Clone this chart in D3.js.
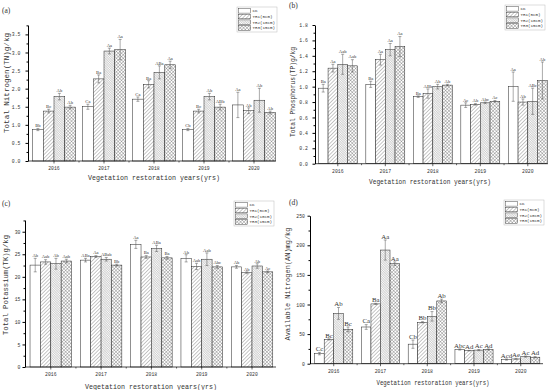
<!DOCTYPE html>
<html lang="en">
<head>
<meta charset="UTF-8">
<title>Soil nutrients by restoration year</title>
<script src="https://cdn.jsdelivr.net/npm/d3@7"></script>
<style>
  body { margin: 0; background: #fff; }
  text { font-family: "Liberation Mono", monospace; fill: #333; }
</style>
</head>
<body>
<svg id="chart" width="550" height="390"></svg>
<script>
// categories
var years = ["2016", "2017", "2018", "2019", "2020"];
var treatments = ["CK", "TR1(5cm)", "TR2(10cm)", "TR3(15cm)"];

// (a) total nitrogen, one row per year: CK, TR1, TR2, TR3
var tnMean = [[0.87, 1.38, 1.78, 1.49], [1.50, 2.27, 3.04, 3.08], [1.71, 2.12, 2.45, 2.66], [0.87, 1.38, 1.78, 1.49], [1.55, 1.39, 1.68, 1.34]];
var tnErr  = [[0.03, 0.05, 0.09, 0.05], [0.07, 0.11, 0.08, 0.28], [0.06, 0.10, 0.18, 0.10], [0.03, 0.05, 0.09, 0.08], [0.35, 0.08, 0.33, 0.04]];
var tnLab  = [["Bb", "Bc", "Ab", "Ab"], ["Ca", "Ba", "Aa", "Aa"], ["Ca", "Ba", "ABa", "Aa"], ["Cb", "Bc", "Ab", "ABb"], ["Aa", "Ab", "Ab", "Ab"]];

// (b) total phosphorus
var tpMean = [[0.98, 1.24, 1.29, 1.27], [1.03, 1.35, 1.48, 1.52], [0.87, 0.91, 1.00, 1.02], [0.76, 0.77, 0.79, 0.81], [1.00, 0.80, 0.81, 1.08]];
var tpErr  = [[0.05, 0.05, 0.13, 0.08], [0.04, 0.07, 0.08, 0.13], [0.01, 0.06, 0.03, 0.01], [0.03, 0.01, 0.01, 0.01], [0.19, 0.04, 0.17, 0.24]];
var tpLab  = [["Ba", "Aa", "Aab", "Aab"], ["Ba", "Aa", "Aa", "Aa"], ["Ba", "ABb", "Ab", "Ab"], ["Ac", "Ab", "Abc", "Ac"], ["Aa", "Ab", "ABc", "Ab"]];

// (c) total potassium
var tkMean = [[22.6, 23.3, 22.9, 23.5], [23.7, 24.5, 23.9, 22.6], [27.2, 24.4, 26.3, 24.2], [24.1, 22.3, 23.9, 22.2], [22.2, 20.9, 22.4, 21.1]];
var tkErr  = [[1.5, 0.5, 1.2, 0.4], [0.4, 0.2, 0.4, 0.2], [0.9, 0.3, 0.7, 0.3], [0.8, 0.7, 1.4, 0.3], [0.3, 0.2, 0.5, 0.2]];
var tkLab  = [["Ab", "Aab", "Ab", "Aab"], ["ABa", "Aa", "ABab", "Bb"], ["Aa", "Ba", "ABa", "Ba"], ["Ab", "Aab", "Aab", "Abc"], ["Ab", "Ab", "Ab", "Ac"]];

// (d) available nitrogen
var anMean = [[17, 41, 85, 58], [62, 101, 192, 169], [33, 70, 80, 106], [24, 22, 23, 24], [7, 8, 12, 11]];
var anErr  = [[2, 1, 10, 4], [4, 1, 17, 3], [7, 1, 8, 3], [1, 0.5, 1, 1], [1, 1, 1, 1]];
var anLab  = [["Cc", "Bc", "Ab", "Bc"], ["Ca", "Ba", "Aa", "Aa"], ["Cb", "Bb", "Bb", "Ab"], ["Abc", "Ad", "Ac", "Ad"], ["Acd", "Ae", "Ac", "Ad"]];

var svg = d3.select("#chart");

// fill patterns for the four treatments
var defs = svg.append("defs");
function hatch(id, size, angle, stroke, sw, cross) {
  var p = defs.append("pattern").attr("id", id)
    .attr("patternUnits", "userSpaceOnUse")
    .attr("width", size).attr("height", size)
    .attr("patternTransform", "rotate(" + angle + ")");
  p.append("rect").attr("width", size).attr("height", size).attr("fill", "#fff");
  p.append("line").attr("x1", 0).attr("y1", 0).attr("x2", 0).attr("y2", size)
    .attr("stroke", stroke).attr("stroke-width", sw);
  if (cross) {
    p.append("line").attr("x1", 0).attr("y1", 0).attr("x2", size).attr("y2", 0)
      .attr("stroke", cross).attr("stroke-width", sw);
  }
}
hatch("pat1", 2.6, 45, "#333", 0.55, null);
hatch("pat2", 1.7, -45, "#666", 0.45, "#aaa");
hatch("pat3", 2.4, 45, "#333", 0.5, "#333");
var fills = ["#fff", "url(#pat1)", "url(#pat2)", "url(#pat3)"];

var panels = [
  { tag: "(a)", tx: 2, ty: 13, mean: tnMean, err: tnErr, lab: tnLab,
    yMax: 3.76, bottom: 161, top: 25, ticks: d3.range(0, 3.51, 0.5), minor: d3.range(0.25, 3.76, 0.5), fmt: d3.format(".1f"),
    xRange: [28, 280], pi: 0.14, po: 0.09, axisEnd: 276, tickPad: 5,
    ylab: "Total Nitrogen(TN)g/kg", ylx: 9, yly: 83, yll: 100,
    xlab: "Vegetation restoration years(yrs)", xlx: 154, xly: 180, xll: 132,
    legX: 237, legY: 7, labSize: 4.6 },
  { tag: "(b)", tx: 289, ty: 8, mean: tpMean, err: tpErr, lab: tpLab,
    yMax: 1.8, bottom: 163.7, top: 25, ticks: d3.range(0, 1.81, 0.2), minor: d3.range(0.1, 1.8, 0.2), fmt: d3.format(".1f"),
    xRange: [315, 550.6], pi: 0.18, po: 0.07, axisEnd: 548, tickPad: 4.5,
    ylab: "Total Phosphorus(TP)g/kg", ylx: 295, yly: 92, yll: 90,
    xlab: "Vegetation restoration years(yrs)", xlx: 430, xly: 184, xll: 122,
    legX: 505, legY: 5, labSize: 4.6 },
  { tag: "(c)", tx: 2, ty: 206, mean: tkMean, err: tkErr, lab: tkLab,
    yMax: 32.6, bottom: 367, top: 220, ticks: d3.range(0, 31, 5), minor: d3.range(2.5, 32.6, 5), fmt: d3.format("d"),
    xRange: [25, 277.8], pi: 0.175, po: 0.1, axisEnd: 276, tickPad: 2,
    ylab: "Total Potassium(TK)g/kg", ylx: 8, yly: 285, yll: 100,
    xlab: "Vegetation restoration years(yrs)", xlx: 151, xly: 389, xll: 132,
    legX: 234, legY: 201, labSize: 4.6 },
  { tag: "(d)", tx: 289, ty: 205, mean: anMean, err: anErr, lab: anLab,
    yMax: 250, bottom: 363.7, top: 215.7, ticks: d3.range(0, 251, 50), minor: d3.range(25, 250, 50), fmt: d3.format("d"),
    xRange: [310, 544.5], pi: 0.185, po: 0.1, axisEnd: 543, tickPad: 2.5,
    ylab: "Available Nitrogen(AN)mg/kg", ylx: 290, yly: 284, yll: 113,
    xlab: "Vegetation restoration years(yrs)", xlx: 433, xly: 385, xll: 113,
    legX: 504, legY: 200, labSize: 6.8 }
];

panels.forEach(drawPanel);

function drawPanel(cfg) {
  var g = svg.append("g");
  var y = d3.scaleLinear().domain([0, cfg.yMax]).range([cfg.bottom, cfg.top]);
  var x0 = d3.scaleBand().domain(years).range(cfg.xRange).paddingInner(cfg.pi).paddingOuter(cfg.po);
  var x1 = d3.scaleBand().domain(treatments).range([0, x0.bandwidth()]);

  // bars
  var groups = g.selectAll("g.year").data(years).enter().append("g")
    .attr("transform", function(d) { return "translate(" + x0(d) + ",0)"; });
  var cells = groups.selectAll("g.bar")
    .data(function(d, i) {
      return treatments.map(function(t, j) {
        return { t: t, j: j, v: cfg.mean[i][j], e: cfg.err[i][j], lab: cfg.lab[i][j] };
      });
    })
    .enter().append("g");

  cells.append("rect")
    .attr("x", function(d) { return x1(d.t); })
    .attr("width", x1.bandwidth())
    .attr("y", function(d) { return y(d.v); })
    .attr("height", function(d) { return cfg.bottom - y(d.v); })
    .attr("fill", function(d) { return fills[d.j]; })
    .attr("stroke", "#222").attr("stroke-width", 0.5);

  // error bars
  var cx = function(d) { return x1(d.t) + x1.bandwidth() / 2; };
  cells.append("line")
    .attr("x1", cx).attr("x2", cx)
    .attr("y1", function(d) { return y(d.v - d.e); })
    .attr("y2", function(d) { return y(d.v + d.e); })
    .attr("stroke", "#555").attr("stroke-width", 0.5);
  [1, -1].forEach(function(s) {
    cells.append("line")
      .attr("x1", function(d) { return cx(d) - 1.5; })
      .attr("x2", function(d) { return cx(d) + 1.5; })
      .attr("y1", function(d) { return y(d.v + s * d.e); })
      .attr("y2", function(d) { return y(d.v + s * d.e); })
      .attr("stroke", "#555").attr("stroke-width", 0.5);
  });

  // significance letters
  cells.append("text")
    .attr("x", cx)
    .attr("y", function(d) { return y(d.v + d.e) - 1.2; })
    .attr("text-anchor", "middle")
    .style("font-family", "'Liberation Serif', serif")
    .style("font-size", cfg.labSize + "px")
    .style("fill", "#333")
    .text(function(d) { return d.lab; });

  // y axis
  var yAxis = g.append("g").attr("transform", "translate(" + cfg.xRange[0] + ",0)")
    .call(d3.axisLeft(y).tickValues(cfg.ticks).tickFormat(cfg.fmt).tickSize(2.5).tickSizeOuter(0).tickPadding(cfg.tickPad));
  g.append("g").attr("transform", "translate(" + cfg.xRange[0] + ",0)")
    .call(d3.axisLeft(y).tickValues(cfg.minor).tickFormat("").tickSize(1.5).tickSizeOuter(0))
    .select(".domain").remove();
  yAxis.selectAll("text").style("font-size", "4.8px");

  // x axis
  g.append("line")
    .attr("x1", cfg.xRange[0]).attr("x2", cfg.axisEnd)
    .attr("y1", cfg.bottom).attr("y2", cfg.bottom)
    .attr("stroke", "#000").attr("stroke-width", 0.7);
  var step = x0.step();
  g.selectAll("line.xt").data(years).enter().append("line")
    .attr("x1", function(d) { return x0(d) + x0.bandwidth() / 2; })
    .attr("x2", function(d) { return x0(d) + x0.bandwidth() / 2; })
    .attr("y1", cfg.bottom).attr("y2", cfg.bottom + 2.5)
    .attr("stroke", "#000").attr("stroke-width", 0.6);
  g.selectAll("line.xm").data(years.slice(1)).enter().append("line")
    .attr("x1", function(d) { return x0(d) - step * cfg.pi / 2; })
    .attr("x2", function(d) { return x0(d) - step * cfg.pi / 2; })
    .attr("y1", cfg.bottom).attr("y2", cfg.bottom + 1.5)
    .attr("stroke", "#000").attr("stroke-width", 0.6);
  g.selectAll("text.year").data(years).enter().append("text")
    .attr("x", function(d) { return x0(d) + x0.bandwidth() / 2; })
    .attr("y", cfg.bottom + 9)
    .attr("text-anchor", "middle")
    .style("font-size", "4.8px")
    .text(function(d) { return d; });

  // axis titles
  g.append("text")
    .attr("transform", "translate(" + cfg.ylx + "," + cfg.yly + ") rotate(-90)")
    .attr("text-anchor", "middle")
    .attr("textLength", cfg.yll).attr("lengthAdjust", "spacingAndGlyphs")
    .style("font-size", "6.6px")
    .text(cfg.ylab);
  g.append("text")
    .attr("x", cfg.xlx).attr("y", cfg.xly)
    .attr("text-anchor", "middle")
    .attr("textLength", cfg.xll).attr("lengthAdjust", "spacingAndGlyphs")
    .style("font-size", "6.6px")
    .text(cfg.xlab);

  // panel tag
  g.append("text").attr("x", cfg.tx).attr("y", cfg.ty)
    .style("font-family", "'Liberation Serif', serif")
    .style("font-size", "7.5px")
    .text(cfg.tag);

  // legend
  var leg = g.append("g").attr("transform", "translate(" + cfg.legX + "," + cfg.legY + ")");
  leg.append("rect").attr("width", 40).attr("height", 25)
    .attr("fill", "#fff").attr("stroke", "#bbb").attr("stroke-width", 0.5);
  var rows = leg.selectAll("g").data(treatments).enter().append("g")
    .attr("transform", function(d, i) { return "translate(1.5," + (1.5 + i * 5.7) + ")"; });
  rows.append("rect").attr("width", 12).attr("height", 4.6)
    .attr("fill", function(d, i) { return fills[i]; })
    .attr("stroke", "#222").attr("stroke-width", 0.4);
  rows.append("text").attr("x", 14).attr("y", 3.8)
    .style("font-size", "4.2px")
    .text(function(d) { return d; });
}
</script>
</body>
</html>
